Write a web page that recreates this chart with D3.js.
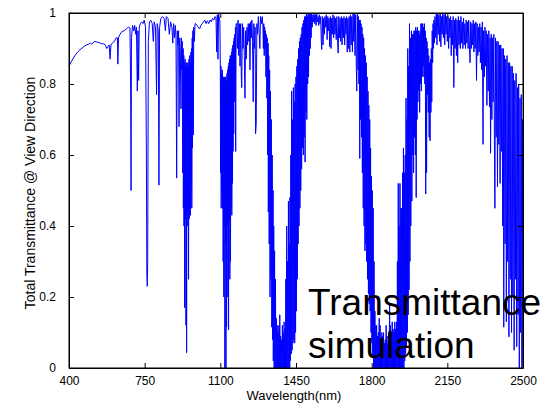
<!DOCTYPE html>
<html>
<head>
<meta charset="utf-8">
<script src="https://cdnjs.cloudflare.com/ajax/libs/d3/7.8.5/d3.min.js"></script>
<style>
  body { margin: 0; background: #fff; }
  text { font-family: "Liberation Sans", Arial, sans-serif; }
</style>
</head>
<body>
<div id="d3"></div>
<script>
// [wavelength nm, transmittance], one array per region
const visibleBand = [
  [400,0.85],[410,0.862],[420,0.873],[430,0.882],[440,0.89],[450,0.896],[460,0.901],[470,0.906],
  [480,0.91],[490,0.912],[500,0.915],[505,0.912],[510,0.916],[520,0.92],[530,0.918],[540,0.916],
  [550,0.914],[560,0.913],[568,0.91],[575,0.90],[580,0.905],[586,0.91],[590,0.87],[594,0.91],
  [600,0.915],[610,0.92],[618,0.93],[624,0.93],[626,0.856],[629,0.93],[636,0.94],[645,0.948],
  [655,0.95],[665,0.955],[675,0.96],[682,0.958],[685,0.80],[687,0.50],[689,0.93],[694,0.965],
  [700,0.95],[704,0.965],[708,0.94],[712,0.96],[716,0.78],[719,0.95],[722,0.81],[725,0.96],
  [730,0.97],[736,0.975],[742,0.97],[748,0.98],[754,0.96],[758,0.60],[760,0.27],[762,0.23],
  [764,0.30],[767,0.92],[772,0.975],[778,0.98],[785,0.97],[790,0.92],[794,0.975],[800,0.96],
  [805,0.77],[808,0.97],[813,0.95],[816,0.515],[819,0.96],[825,0.985],[832,0.99],[840,0.985],
  [846,0.95],[850,0.99],[858,0.985],[864,0.94],[870,0.975],[876,0.96],[880,0.915],[884,0.97],
  [888,0.93],[892,0.965]
];

const band940 = [
  [895,0.93],[898,0.535],[901,0.95],[904,0.91],[907,0.95],[909,0.68],[912,0.93],[915,0.89],
  [918,0.73],[920,0.93],[922,0.84],[924,0.92],[926,0.55],[928,0.90],[929,0.45],[931,0.88],
  [932,0.40],[934,0.86],[935,0.17],[937,0.87],[938,0.42],[940,0.85],[941,0.12],[943,0.86],
  [944,0.043],[946,0.84],[947,0.44],[949,0.86],[950,0.40],[952,0.85],[953,0.25],[955,0.87],
  [956,0.42],[958,0.88],[959,0.45],[961,0.86],[962,0.43],[964,0.89],[965,0.50],[967,0.90],
  [968,0.45],[970,0.93],[971,0.62],[973,0.95],[975,0.656],[977,0.96],[980,0.92],[983,0.97]
];

const window1050 = [
  [986,0.97],[992,0.965],[998,0.96],[1004,0.955],[1010,0.965],[1016,0.97],[1022,0.975],
  [1028,0.98],[1034,0.97],[1040,0.978],[1046,0.97],[1052,0.98],[1058,0.975],[1064,0.985],
  [1070,0.98],[1076,0.99],[1080,0.985],[1083,0.89],[1086,0.995],[1089,0.87],[1092,1.0],[1096,0.98]
];

const band1130 = [
  [1098,0.98],[1100,0.84],[1101,0.55],[1103,0.85],[1104,0.45],[1106,0.83],[1107,0.50],[1109,0.84],
  [1110,0.45],[1112,0.82],[1113,0.30],[1115,0.82],[1116,0.20],[1118,0.81],[1119,0.40],[1120,0.82],
  [1121,0.0],[1123,0.80],[1124,0.35],[1125,0.82],[1126,0.0],[1128,0.81],[1129,0.115],[1131,0.83],
  [1132,0.40],[1134,0.84],[1135,0.20],[1137,0.85],[1138,0.107],[1140,0.86],[1141,0.42],[1143,0.87],
  [1144,0.25],[1146,0.88],[1147,0.30],[1149,0.88],[1150,0.45],[1152,0.89],[1153,0.43],[1155,0.90],
  [1156,0.52],[1158,0.91],[1159,0.61],[1161,0.92],[1162,0.66],[1164,0.93],[1165,0.75],[1167,0.94],
  [1168,0.82],[1170,0.96],[1171,0.61],[1173,0.97]
];

const window1230 = [
  [1176,0.97],[1179,0.90],[1182,0.98],[1185,0.88],[1188,0.97],[1191,0.85],[1194,0.97],[1197,0.82],
  [1199,0.79],[1202,0.97],[1205,0.90],[1208,0.96],[1211,0.88],[1214,0.76],[1217,0.95],[1220,0.87],
  [1223,0.96],[1226,0.91],[1229,0.97],[1232,0.92],[1235,0.97],[1237,0.84],[1240,0.975],[1243,0.93],
  [1246,0.98],[1249,0.92],[1252,0.75],[1255,0.97],[1258,0.90],[1261,0.96],[1263,0.66],[1266,0.69],
  [1269,0.97],[1272,0.94],[1276,0.99],[1280,0.94],[1283,0.90],[1286,0.99],[1290,0.97],[1294,0.99]
];

const band1380 = [
  [1297,0.96],[1299,0.90],[1301,0.97],[1303,0.88],[1305,0.96],[1307,0.90],[1309,0.95],[1311,0.82],
  [1313,0.94],[1315,0.76],[1317,0.93],[1319,0.60],[1321,0.915],[1322,0.44],[1324,0.88],[1326,0.35],
  [1328,0.84],[1330,0.20],[1332,0.78],[1334,0.25],[1336,0.70],[1338,0.115],[1340,0.60],[1342,0.08],
  [1344,0.50],[1345,0.02],[1347,0.40],[1349,0.0],[1351,0.33],[1353,0.0],[1355,0.25],[1357,0.0],
  [1359,0.14],[1361,0.0],[1363,0.12],[1365,0.0],[1367,0.10],[1369,0.0],[1371,0.12],[1373,0.0],
  [1375,0.15],[1377,0.0],[1379,0.09],[1381,0.0],[1383,0.08],[1385,0.0],[1387,0.12],[1389,0.0],
  [1391,0.10],[1393,0.0],[1395,0.13],[1397,0.0],[1399,0.11],[1401,0.0],[1403,0.25],[1405,0.0],
  [1407,0.40],[1409,0.0],[1411,0.30],[1413,0.0],[1415,0.47],[1417,0.0],[1419,0.35],[1421,0.0],
  [1422,0.48],[1424,0.02],[1426,0.60],[1428,0.04],[1430,0.78],[1432,0.05],[1434,0.70],[1436,0.07],
  [1438,0.79],[1440,0.08],[1442,0.75],[1444,0.07],[1446,0.80],[1448,0.10],[1450,0.82],[1452,0.16],
  [1454,0.85],[1456,0.25],[1458,0.87],[1460,0.35],[1462,0.90],[1464,0.40],[1466,0.92],[1468,0.45],
  [1470,0.93],[1472,0.50],[1474,0.94],[1476,0.56],[1478,0.96],[1480,0.62],[1482,0.97],[1484,0.60],
  [1486,0.98],[1488,0.65],[1490,0.99],[1492,0.58],[1494,0.99],[1496,0.72],[1498,1.0],[1500,0.70],
  [1502,0.99],[1504,0.80],[1506,1.0],[1508,0.82],[1510,1.0],[1512,0.88],[1514,1.0],[1516,0.90],
  [1518,0.995],[1520,0.93],[1522,1.0],[1525,0.96]
];

const window1650 = [
  [1528,0.995],[1531,0.975],[1534,1.0],[1537,0.97],[1540,0.995],[1543,0.965],[1546,1.0],[1549,0.975],
  [1552,0.99],[1555,0.965],[1558,0.995],[1561,0.97],[1564,0.99],[1567,0.92],[1569,0.897],[1572,0.99],
  [1575,0.91],[1578,0.985],[1581,0.94],[1584,0.99],[1587,0.96],[1590,0.995],[1594,0.925],[1597,0.99],
  [1600,0.95],[1603,0.985],[1606,0.905],[1609,0.99],[1612,0.90],[1615,0.985],[1618,0.94],[1621,0.995],
  [1624,0.93],[1627,0.99],[1630,0.94],[1633,0.985],[1636,0.925],[1639,0.99],[1642,0.93],[1645,0.887],
  [1648,0.99],[1651,0.93],[1654,0.985],[1657,0.92],[1660,0.99],[1663,0.91],[1666,0.985],[1669,0.93],
  [1672,0.99],[1675,0.91],[1678,0.985],[1681,0.94],[1684,0.99],[1687,0.89],[1690,0.985],[1693,0.90],
  [1696,0.99],[1699,0.89],[1702,0.995],[1705,0.91],[1708,0.99],[1711,0.89],[1714,1.0],[1717,0.92],
  [1720,1.0],[1723,0.88],[1726,0.995],[1729,0.85],[1731,0.78],[1734,1.0],[1737,0.84]
];

const band1900 = [
  [1739,0.99],[1741,0.80],[1743,0.98],[1745,0.59],[1747,0.98],[1749,0.70],[1751,0.97],[1753,0.65],
  [1755,0.96],[1757,0.55],[1759,0.94],[1761,0.45],[1763,0.93],[1765,0.40],[1767,0.90],[1769,0.33],
  [1771,0.88],[1773,0.35],[1775,0.86],[1777,0.30],[1779,0.82],[1781,0.25],[1783,0.78],[1785,0.21],
  [1787,0.74],[1789,0.18],[1791,0.70],[1793,0.16],[1795,0.62],[1797,0.10],[1799,0.54],[1801,0.07],
  [1803,0.50],[1805,0.03],[1807,0.45],[1809,0.0],[1811,0.30],[1813,0.0],[1815,0.16],[1817,0.0],
  [1819,0.12],[1821,0.0],[1823,0.12],[1825,0.0],[1827,0.09],[1829,0.0],[1831,0.10],[1833,0.0],
  [1835,0.14],[1837,0.0],[1839,0.12],[1841,0.0],[1843,0.08],[1845,0.0],[1847,0.10],[1849,0.0],
  [1851,0.09],[1853,0.0],[1855,0.10],[1857,0.0],[1859,0.07],[1861,0.0],[1863,0.08],[1865,0.0],
  [1867,0.12],[1869,0.0],[1871,0.09],[1873,0.0],[1875,0.07],[1877,0.0],[1879,0.10],[1881,0.0],
  [1883,0.18],[1885,0.0],[1887,0.12],[1889,0.0],[1891,0.10],[1893,0.0],[1895,0.13],[1897,0.0],
  [1899,0.11],[1901,0.0],[1903,0.10],[1905,0.0],[1907,0.13],[1909,0.0],[1911,0.11],[1913,0.0],
  [1915,0.13],[1917,0.0],[1919,0.30],[1921,0.0],[1923,0.52],[1925,0.0],[1927,0.40],[1929,0.0],
  [1931,0.52],[1933,0.0],[1935,0.45],[1937,0.0],[1939,0.45],[1941,0.0],[1943,0.55],[1945,0.0],
  [1947,0.62],[1949,0.0],[1951,0.55],[1953,0.02],[1955,0.60],[1957,0.04],[1959,0.76],[1961,0.06],
  [1963,0.70],[1965,0.10],[1967,0.90],[1969,0.15],[1971,0.85],[1973,0.22],[1975,0.97],[1977,0.30],
  [1979,0.93],[1981,0.40]
];

const swirBand = [
  [1984,0.95],[1986,0.47],[1988,0.94],[1990,0.60],[1992,0.94],[1994,0.55],[1996,0.95],[1998,0.65],
  [2000,0.95],[2002,0.60],[2004,0.96],[2006,0.48],[2008,0.95],[2010,0.70],[2012,0.96],[2014,0.75],
  [2016,0.95],[2018,0.78],[2020,0.94],[2022,0.72],[2024,0.95],[2026,0.80],[2028,0.97],[2030,0.78],
  [2032,0.97],[2034,0.82],[2036,0.97],[2038,0.85],[2040,0.96],[2042,0.82],[2044,0.97],[2046,0.80],
  [2048,0.95],[2050,0.49],[2052,0.93],[2054,0.55],[2056,0.92],[2058,0.77],[2060,0.90],[2062,0.72],
  [2064,0.88],[2066,0.65],[2068,0.86],[2070,0.64],[2072,0.87],[2074,0.72],[2076,0.90],[2078,0.75],
  [2080,0.95],[2082,0.86],[2084,0.97],[2086,0.90],[2088,0.98],[2090,0.915],[2093,0.99],[2096,0.93],
  [2099,1.0],[2102,0.91],[2105,1.0],[2108,0.94],[2111,0.995],[2114,0.92],[2117,1.0],[2120,0.905],
  [2123,0.99],[2126,0.94],[2129,1.0],[2132,0.93],[2135,0.995],[2138,0.91],[2141,1.0],[2144,0.94],
  [2147,0.99],[2150,0.92],[2153,0.99],[2156,0.90],[2159,0.985],[2162,0.93],[2165,0.99],[2168,0.88],
  [2171,0.98],[2174,0.91],[2177,0.99],[2180,0.79],[2183,0.98],[2186,0.90],[2189,0.985],[2192,0.88],
  [2195,0.98],[2198,0.86],[2201,0.99],[2204,0.91],[2207,0.98],[2210,0.90],[2213,0.99],[2216,0.915],
  [2219,0.975],[2222,0.90],[2225,0.985],[2228,0.91],[2231,0.97],[2234,0.90],[2237,0.98],[2240,0.915],
  [2243,0.975],[2246,0.90],[2249,0.98],[2252,0.91],[2255,0.86],[2258,0.975],[2261,0.90],[2264,0.97],
  [2267,0.91],[2270,0.98],[2273,0.89],[2276,0.97],[2279,0.90],[2282,0.975],[2285,0.81],[2288,0.97],
  [2291,0.88],[2294,0.96],[2297,0.89],[2300,0.97],[2303,0.86],[2306,0.96],[2309,0.84],[2312,0.975],
  [2315,0.63],[2318,0.95],[2321,0.82],[2324,0.96],[2327,0.85],[2330,0.95],[2333,0.74],[2336,0.94],
  [2339,0.78],[2342,0.95],[2345,0.735],[2348,0.93],[2350,0.605],[2353,0.94],[2356,0.70],[2359,0.93],
  [2362,0.75],[2365,0.94],[2368,0.62],[2370,0.45],[2373,0.93],[2376,0.65],[2379,0.92],[2382,0.51],
  [2385,0.92],[2388,0.63],[2391,0.91],[2394,0.52],[2397,0.91],[2400,0.61],[2403,0.90],[2406,0.40],
  [2409,0.90],[2411,0.115],[2414,0.88],[2417,0.35],[2420,0.87],[2423,0.13],[2426,0.88],[2429,0.30],
  [2432,0.86],[2435,0.088],[2438,0.86],[2441,0.25],[2444,0.85],[2447,0.10],[2450,0.85],[2453,0.20],
  [2456,0.83],[2459,0.05],[2462,0.81],[2465,0.25],[2468,0.83],[2471,0.06],[2474,0.79],[2477,0.15],
  [2480,0.80],[2483,0.0],[2486,0.76],[2489,0.10],[2492,0.77],[2495,0.0],[2498,0.70],[2500,0.02]
];

const xTicks = [400, 750, 1100, 1450, 1800, 2150, 2500];
const yTicks = [0, 0.2, 0.4, 0.6, 0.8, 1];
const yTickLabels = ["0", "0.2", "0.4", "0.6", "0.8", "1"];

const spectrum = [].concat(visibleBand, band940, window1050, band1130,
  window1230, band1380, window1650, band1900, swirBand);

const chartWidth = 551;
const chartHeight = 404;
const plot = { left: 69, right: 523, top: 13, bottom: 368 };

const svg = d3
  .select("#d3")
  .append("svg")
  .attr("width", chartWidth)
  .attr("height", chartHeight);

const x = d3.scaleLinear().domain([400, 2500]).range([plot.left, plot.right]);
const y = d3.scaleLinear().domain([0, 1]).range([plot.bottom, plot.top]);

// spectrum line
svg
  .append("path")
  .datum(spectrum)
  .attr("fill", "none")
  .attr("stroke", "#0000ff")
  .attr("stroke-width", 1)
  .attr("d", d3.line().x((d) => x(d[0])).y((d) => y(d[1])));

// MATLAB style box with inward ticks on all four sides
const tickLen = 5;

const bottomAxis = svg
  .append("g")
  .attr("transform", `translate(0,${plot.bottom})`)
  .call(d3.axisBottom(x).tickValues(xTicks).tickFormat(d3.format("d"))
    .tickSizeInner(-tickLen).tickSizeOuter(0).tickPadding(8));

svg
  .append("g")
  .attr("transform", `translate(0,${plot.top})`)
  .call(d3.axisTop(x).tickValues(xTicks).tickFormat("")
    .tickSizeInner(-tickLen).tickSizeOuter(0));

const leftAxis = svg
  .append("g")
  .attr("transform", `translate(${plot.left},0)`)
  .call(d3.axisLeft(y).tickValues(yTicks).tickFormat((d, i) => yTickLabels[i])
    .tickSizeInner(-tickLen).tickSizeOuter(0).tickPadding(13));

svg
  .append("g")
  .attr("transform", `translate(${plot.right},0)`)
  .call(d3.axisRight(y).tickValues(yTicks).tickFormat("")
    .tickSizeInner(-tickLen).tickSizeOuter(0));

svg.selectAll(".domain").attr("stroke", "#000");
svg.selectAll(".tick line").attr("stroke", "#000");

[bottomAxis, leftAxis].forEach((g) => {
  g.selectAll("text")
    .attr("fill", "#000")
    .style("font-size", "12px")
    .style("font-family", '"Liberation Sans", Arial, sans-serif');
});

svg
  .append("rect")
  .attr("x", plot.left)
  .attr("y", plot.top)
  .attr("width", plot.right - plot.left)
  .attr("height", plot.bottom - plot.top)
  .attr("fill", "none")
  .attr("stroke", "#000")
  .attr("stroke-width", 1);

// axis titles
svg
  .append("text")
  .attr("x", (plot.left + plot.right) / 2 - 2)
  .attr("y", 399.5)
  .attr("text-anchor", "middle")
  .style("font-size", "13px")
  .text("Wavelength(nm)");

svg
  .append("text")
  .attr("transform", "translate(35,193) rotate(-90)")
  .attr("text-anchor", "middle")
  .style("font-size", "14px")
  .text("Total Transmittance @ View Direction");

// overlaid caption
const caption = svg
  .append("text")
  .attr("x", 308)
  .attr("y", 315)
  .style("font-size", "37px")
  .attr("fill", "#000");

caption.append("tspan").attr("x", 308).attr("y", 315).text("Transmittance");
caption.append("tspan").attr("x", 308).attr("y", 358).text("simulation");
</script>
</body>
</html>
